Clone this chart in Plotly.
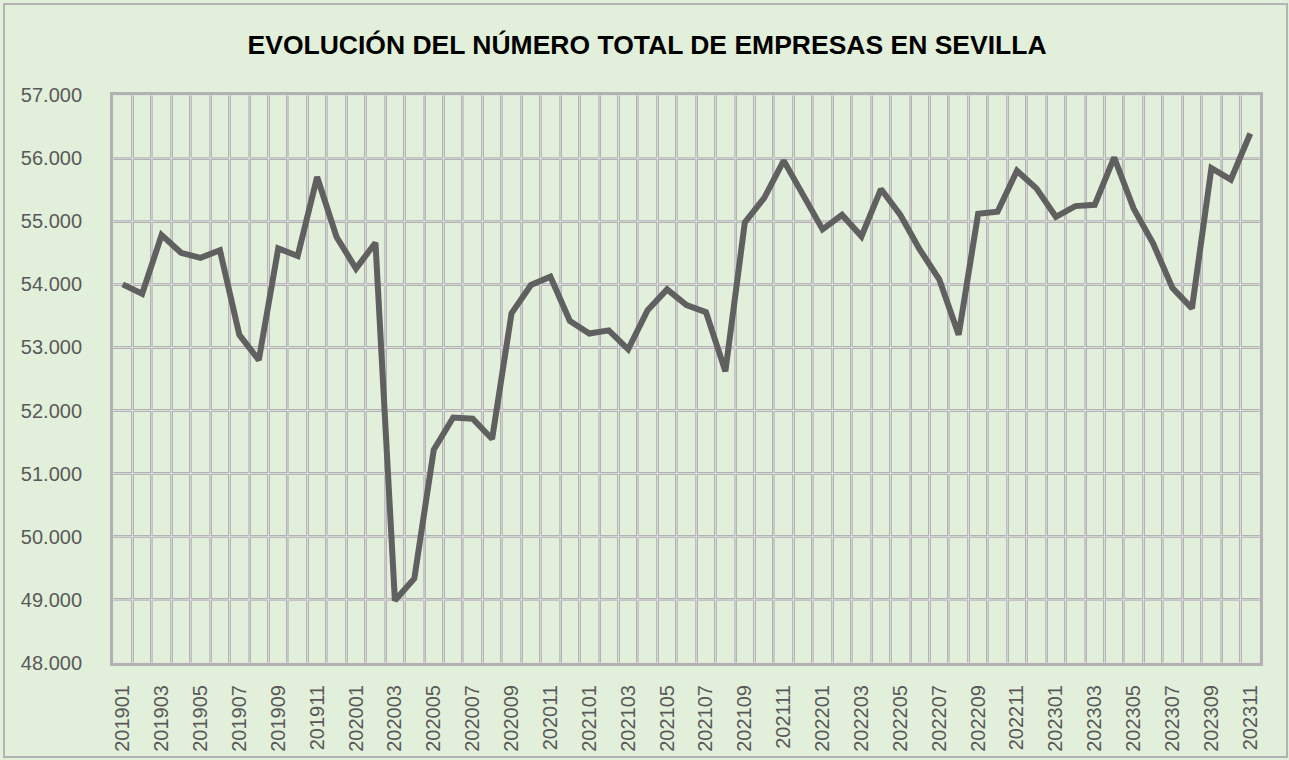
import plotly.graph_objects as go

# Monthly period labels (YYYYMM)
periods = [f"{y}{m:02d}" for y in range(2019, 2024) for m in range(1, 13)][:59]

# Total number of companies in Sevilla
empresas = [
    54000, 53850, 54780, 54500, 54420, 54540, 53200, 52800, 54570, 54450, 55700, 54750,
    54250, 54660, 48990, 49340, 51380, 51890, 51870, 51550, 53540, 53990, 54120, 53420,
    53220, 53270, 52970, 53590, 53920, 53670, 53560, 52620, 54980, 55370, 55960, 55420,
    54870, 55100, 54760, 55510, 55100, 54550, 54080, 53200, 55120, 55150, 55800, 55520,
    55070, 55240, 55260, 56010, 55200, 54650, 53940, 53620, 55840, 55660, 56390,
]

y_ticks = [48000, 49000, 50000, 51000, 52000, 53000, 54000, 55000, 56000, 57000]

TITLE = "EVOLUCIÓN DEL NÚMERO TOTAL DE EMPRESAS EN SEVILLA"
BG = "#e2efda"
GRID_DARK = "#b2b2b2"
GRID_LIGHT = "#dedede"
FONT = "Liberation Sans Narrow, Arial Narrow, Liberation Sans, Arial, sans-serif"

idx = list(range(len(periods)))
label_idx = idx[::2]
label_txt = periods[::2]
boundaries = [i - 0.5 for i in range(len(periods) + 1)]
x_range = [boundaries[0], boundaries[-1]]
y_range = [y_ticks[0], y_ticks[-1]]

fig = go.Figure()
fig.add_trace(go.Scatter(
    x=idx, y=empresas, mode="lines",
    line=dict(color="#606060", width=6),
    showlegend=False,
))

# Light centre stroke on every grid line (double-edged grid look)
grid_centres = []
for b in boundaries:
    grid_centres.append(dict(type="line", layer="between", xref="x", yref="y",
                             x0=b, x1=b, y0=y_range[0], y1=y_range[1],
                             line=dict(color=GRID_LIGHT, width=1)))
for t in y_ticks:
    grid_centres.append(dict(type="line", layer="between", xref="x", yref="y",
                             x0=x_range[0], x1=x_range[1], y0=t, y1=t,
                             line=dict(color=GRID_LIGHT, width=1)))

# Outer chart frame
frame = dict(type="rect", xref="paper", yref="paper", layer="below",
             x0=-109 / 1147, x1=1 + 27 / 1147, y0=-94 / 568, y1=1 + 91 / 568,
             line=dict(color="#b3b3b3", width=2), fillcolor="rgba(0,0,0,0)")

fig.update_layout(
    width=1289, height=760,
    paper_bgcolor=BG, plot_bgcolor=BG,
    margin=dict(l=113, r=29, t=95, b=97),
    separators=",.",
    title=dict(
        text=TITLE, x=0.502, xanchor="center", y=0.941, yanchor="middle",
        font=dict(family=FONT, size=26.5, color="#000000", weight="bold"),
    ),
    xaxis=dict(
        range=x_range, tickmode="array", tickvals=label_idx, ticktext=label_txt,
        tickangle=-90, showgrid=False, zeroline=False, ticks="",
        tickfont=dict(family=FONT, size=20, color="#595959"),
        ticklabelstandoff=11, automargin=False,
        showline=True, mirror=True, linecolor=GRID_DARK, linewidth=3,
        layer="below traces",
        minor=dict(tickmode="array", tickvals=boundaries, showgrid=True,
                   gridcolor=GRID_DARK, gridwidth=3, ticks=""),
    ),
    yaxis=dict(
        range=y_range, tickmode="array", tickvals=y_ticks, tickformat=",d",
        showgrid=True, gridcolor=GRID_DARK, gridwidth=3, zeroline=False, ticks="",
        tickfont=dict(family=FONT, size=20, color="#595959"),
        ticklabelstandoff=24, automargin=False,
        showline=True, mirror=True, linecolor=GRID_DARK, linewidth=3,
        layer="below traces",
    ),
    shapes=grid_centres + [frame],
)

fig.write_html("out.html")
